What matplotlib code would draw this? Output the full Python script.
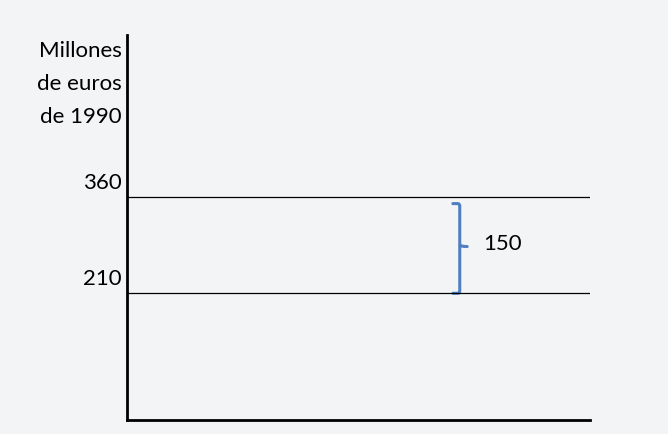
import matplotlib
matplotlib.use("Agg")
import matplotlib.pyplot as plt
from matplotlib.path import Path
from matplotlib.patches import PathPatch

# values
levels = [360, 210]
level_labels = ["360", "210"]
ylabel_lines = ["Millones", "de euros", "de 1990"]
gap = levels[0] - levels[1]

bg = "#f3f4f6"
brace_color = "#4f7fbf"

plt.rcParams['font.family'] = ['Lato', 'DejaVu Sans']

fig = plt.figure(figsize=(6.68, 4.34), dpi=100, facecolor=bg)
ax = fig.add_axes([0.190, 0.032, 0.693, 0.887])
ax.set_facecolor(bg)
ax.set_xlim(0, 1)
ax.set_ylim(12, 613)

for s in ["top", "right"]:
    ax.spines[s].set_visible(False)
for s in ["left", "bottom"]:
    ax.spines[s].set_linewidth(2)
    ax.spines[s].set_color("black")
ax.set_xticks([])
ax.set_yticks([])

fs = 16

# horizontal reference lines
for lv, lab in zip(levels, level_labels):
    ax.axhline(lv, color="black", lw=0.9, xmin=0, xmax=1)
    ax.text(-0.011, lv + 6, lab, ha="right", va="bottom", fontsize=fs,
            transform=ax.get_yaxis_transform())

# axis title, right aligned above the ticks
for i, line in enumerate(ylabel_lines):
    ax.text(-0.011, 589 - i * 52, line, ha="right", va="center", fontsize=fs,
            transform=ax.get_yaxis_transform())

# curly bracket showing the difference
top = levels[0] - 10
bot = levels[1]
mid = (top + bot) / 2 + 3
x0, x1, x2 = 0.704, 0.719, 0.735
verts = [(x0, top), (x1 - 0.004, top), (x1, top), (x1, top - 4),
         (x1, mid + 3), (x1, mid), (x2, mid), (x1, mid), (x1, mid - 3),
         (x1, bot + 4), (x1, bot), (x1 - 0.004, bot), (x0, bot)]
codes = [Path.MOVETO, Path.LINETO, Path.CURVE3, Path.CURVE3,
         Path.LINETO, Path.CURVE3, Path.CURVE3, Path.MOVETO, Path.LINETO,
         Path.LINETO, Path.CURVE3, Path.CURVE3, Path.LINETO]
ax.add_patch(PathPatch(Path(verts, codes), facecolor="none",
                       edgecolor=brace_color, lw=2.2, capstyle="round"))
ax.text(0.769, mid + 4, str(gap), ha="left", va="center", fontsize=fs)

fig.savefig("out.png", dpi=100, facecolor=bg)
